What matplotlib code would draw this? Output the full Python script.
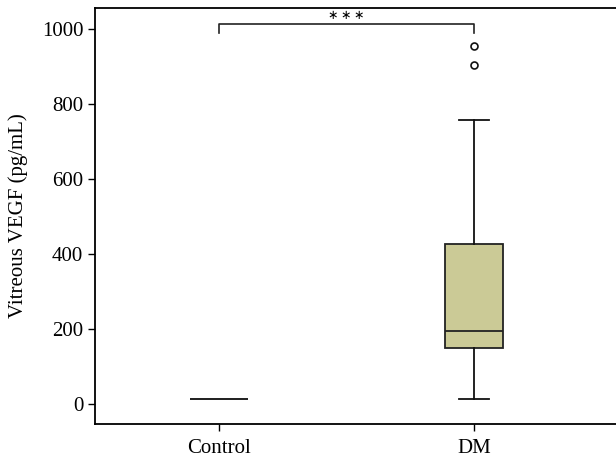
import numpy as np
import matplotlib.pyplot as plt

groups = ["Control", "DM"]
whislo = [13, 13]
q1 = [13, 149]
med = [13, 195]
q3 = [13, 427]
whishi = [13, 757]
fliers = [[], [903, 955]]

yticks = [0, 200, 400, 600, 800, 1000]

plt.rcParams['font.family'] = ['Liberation Serif', 'DejaVu Serif']

fig = plt.figure(figsize=(6.16, 4.62), dpi=100)
ax = fig.add_axes([95/616, 1 - 424/462, 1 - 95/616, (424 - 8)/462])

stats = []
for i, g in enumerate(groups):
    stats.append(dict(label=g, whislo=whislo[i], q1=q1[i], med=med[i],
                      q3=q3[i], whishi=whishi[i], fliers=fliers[i]))

bp = ax.bxp(stats, positions=[1, 2], widths=0.23, patch_artist=True,
            showcaps=True,
            boxprops=dict(facecolor="#cbca96", edgecolor="#222222", linewidth=1.3),
            medianprops=dict(color="#222222", linewidth=1.3),
            whiskerprops=dict(color="#111111", linewidth=1.3),
            capprops=dict(color="#111111", linewidth=1.3),
            flierprops=dict(marker="o", markersize=5, markerfacecolor="white",
                            markeredgecolor="#111111", markeredgewidth=1.2))
# control has only a flat line, hide its cap/whisker ends
for c in bp['caps'][:2]:
    c.set_visible(False)

ax.set_xlim(0.514, 2.557)
ax.set_ylim(-53, 1056)
ax.set_yticks(yticks)
ax.set_yticklabels([str(v) for v in yticks])
ax.tick_params(axis='both', direction='out', length=5, width=1, labelsize=15)
ax.tick_params(axis='x', pad=6)
ax.spines['right'].set_visible(False)
for s in ['left', 'bottom', 'top']:
    ax.spines[s].set_linewidth(1.3)
ax.set_ylabel("Vitreous VEGF (pg/mL)", fontsize=15, labelpad=10)

# significance bracket
ax.plot([1, 1, 2, 2], [989, 1013, 1013, 989], color="#222222", linewidth=1.2)
ax.text(1.5, 1036, "\u2217\u2009\u2217\u2009\u2217", ha='center', va='center',
        fontsize=9, family=['DejaVu Sans'])

fig.savefig("out.png", dpi=100)
